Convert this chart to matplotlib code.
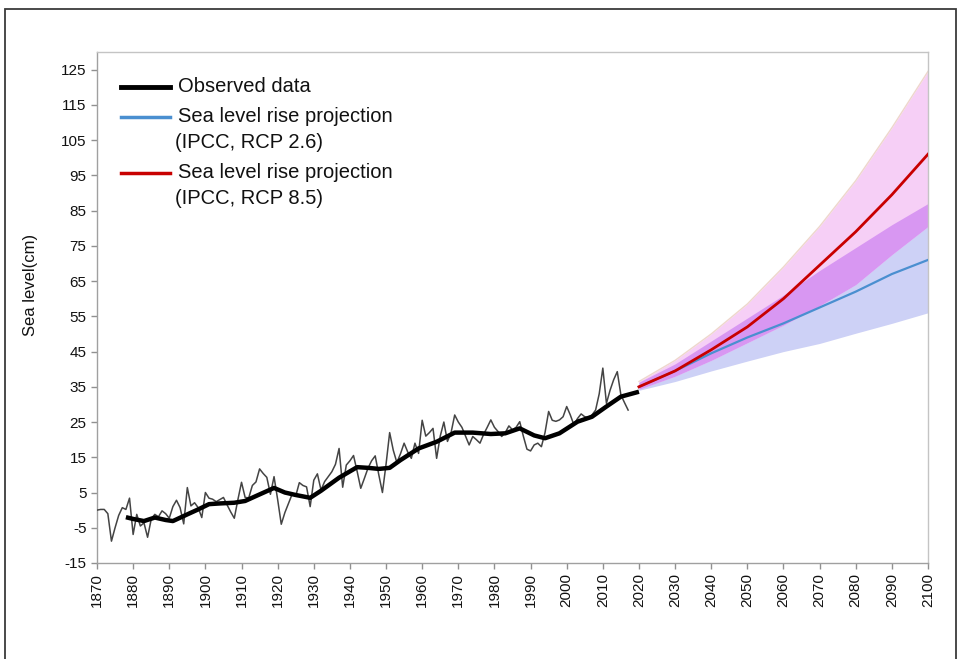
import numpy as np
import matplotlib
matplotlib.use("Agg")
import matplotlib.pyplot as plt
from matplotlib.lines import Line2D
from matplotlib.patches import Rectangle

plt.rcParams['font.family'] = ['Liberation Sans', 'DejaVu Sans']
plt.rcParams['axes.unicode_minus'] = False

# ---------------- data ----------------
obs_years = list(range(1870, 2018))
obs_values = [
    0, 0.2, 0.2, -1, -8.8, -5, -1.5, 0.7, 0.2, 3.4,          # 1870-1879
    -6.9, -1.2, -4.5, -3.6, -7.7, -2.6, -1.2, -1.9, -0.2, -1.0,  # 1880-1889
    -2.3, 1.0, 2.8, 0.7, -3.9, 6.4, 1.2, 2.1, 0.7, -2.1,      # 1890-1899
    5.0, 3.4, 3.1, 2.4, 3.0, 3.6, 1.5, -0.5, -2.3, 3.0,       # 1900-1909
    7.9, 3.6, 3.5, 7.0, 8.0, 11.7, 10.4, 9.3, 4.5, 9.5,       # 1910-1919
    3.0, -4.0, -0.7, 1.9, 4.5, 4.0, 7.8, 7.0, 6.6, 1.0,       # 1920-1929
    8.5, 10.3, 5.7, 8.1, 9.5, 10.9, 13.0, 17.5, 6.5, 12.8,    # 1930-1939
    14.0, 15.5, 11.0, 6.2, 9.0, 11.9, 14.0, 15.4, 10.0, 5.0,  # 1940-1949
    13.0, 22.0, 17.0, 13.5, 16.0, 19.0, 16.5, 14.7, 19.0, 16.1,  # 1950-1959
    25.5, 21.0, 22.0, 23.2, 14.7, 21.0, 25.0, 19.5, 22.0, 27.0,  # 1960-1969
    25.0, 23.5, 21.0, 18.5, 20.9, 20.0, 19.0, 21.5, 23.5, 25.6,  # 1970-1979
    23.5, 22.3, 20.9, 22.0, 23.9, 22.8, 23.5, 25.1, 21.0, 17.3,  # 1980-1989
    16.8, 18.5, 19.0, 18.0, 22.0, 28.0, 25.5, 25.2, 25.6, 26.5,  # 1990-1999
    29.4, 27.0, 24.2, 26.0, 27.3, 26.5, 26.3, 27.0, 28.4, 33.0,  # 2000-2009
    40.3, 30.3, 34.0, 37.0, 39.3, 32.7, 30.5, 28.4,              # 2010-2017
]

smooth_years = [1878, 1880, 1883, 1886, 1889, 1891, 1895, 1898, 1901, 1904,
                1908, 1911, 1914, 1919, 1922, 1925, 1929, 1932, 1937, 1942,
                1945, 1948, 1951, 1954, 1959, 1964, 1969, 1974, 1979, 1983,
                1987, 1991, 1994, 1998, 2003, 2007, 2011, 2015, 2020]
smooth_values = [-2.0, -2.5, -3.1, -2.1, -2.8, -3.1, -1.2, 0.2, 1.7, 1.9,
                 2.1, 2.6, 4.0, 6.3, 5.0, 4.3, 3.5, 5.5, 9.2, 12.2,
                 12.0, 11.7, 12.0, 14.2, 17.5, 19.4, 22.0, 22.0, 21.6, 21.8,
                 23.2, 21.2, 20.4, 21.8, 25.1, 26.5, 29.4, 32.2, 33.6]

proj_years = [2020, 2030, 2040, 2050, 2060, 2070, 2080, 2090, 2100]
rcp85_mid = [35, 39.5, 45.5, 52, 60, 69.5, 79, 89.5, 101]
rcp85_high = [36.5, 42.5, 50, 58.5, 69, 80.5, 93.5, 108.5, 124.5]
rcp85_low = [34.3, 38, 42.5, 47.5, 52.5, 58, 64, 72.5, 80.5]
rcp26_mid = [35, 39.5, 44.5, 49, 53, 57.5, 62, 67, 71]
rcp26_high = [36.3, 41.5, 48, 54.5, 61, 68, 74.5, 81, 87]
rcp26_low = [34, 36.5, 39.5, 42.3, 45, 47.3, 50.2, 53, 56]

y_ticks = list(range(-15, 126, 10))
x_ticks = list(range(1870, 2101, 10))

legend_labels = [["Observed data"],
                 ["Sea level rise projection", "(IPCC, RCP 2.6)"],
                 ["Sea level rise projection", "(IPCC, RCP 8.5)"]]
y_label = "Sea level(cm)"

# ---------------- figure ----------------
W, H = 959, 659
fig = plt.figure(figsize=(W / 100, H / 100), dpi=100)
fig.patch.set_facecolor('white')

# outer frame
fig.patches.append(Rectangle((5 / W, -0.05), (956 - 5) / W, 1.05 - 9 / H,
                             transform=fig.transFigure, fill=False,
                             edgecolor='#3a3a3a', linewidth=1.3))

ax = fig.add_axes([97 / W, 1 - 563 / H, (928 - 97) / W, (563 - 52) / H])

pink = '#f6cff6'
purple = '#d897f2'
lav = '#cdd1f6'

py = np.array(proj_years)
h8 = np.array(rcp85_high)
l8 = np.array(rcp85_low)
h2 = np.array(rcp26_high)
l2 = np.array(rcp26_low)

ax.fill_between(py, l2, h2, color=lav, linewidth=0, zorder=1)
ax.fill_between(py, l8, h8, color=pink, linewidth=0, zorder=1)
ax.fill_between(py, l8, np.minimum(h2, h8), where=h2 >= l8, color=purple,
                linewidth=0, zorder=2)
ax.plot(py, h8, color='#eed6cc', linewidth=1.0, zorder=2)

ax.plot(obs_years, obs_values, color='#444444', linewidth=1.1, zorder=3)
ax.plot(smooth_years, smooth_values, color='black', linewidth=3.2,
        solid_capstyle='butt', zorder=4)
ax.plot(proj_years, rcp26_mid, color='#4a8fd0', linewidth=1.6, zorder=5)
ax.plot(proj_years, rcp85_mid, color='#c80000', linewidth=2.0, zorder=6)

ax.set_xlim(1870, 2100)
ax.set_ylim(-15, 130)
ax.set_yticks(y_ticks)
ax.set_xticks(x_ticks)
ax.set_xticklabels([str(x) for x in x_ticks], rotation=90)
ax.tick_params(axis='both', colors='#909090', labelcolor='#111111',
               labelsize=11, length=4, width=1)
ax.tick_params(axis='x', pad=3)
for s in ax.spines.values():
    s.set_color('#c4c4c4')
    s.set_linewidth(1.0)
ax.spines['left'].set_color('#a0a0a0')
ax.spines['bottom'].set_color('#a0a0a0')

fig.text(31 / W, 1 - 285 / H, y_label, rotation=90, ha='center', va='center',
         fontsize=12, color='#111111')

# legend (manual)
leg_colors = ['black', '#4a8fd0', '#c80000']
leg_widths = [3.5, 2.5, 2.5]
leg_line_y = [87, 117, 173]
for labs, c, lw, yy in zip(legend_labels, leg_colors, leg_widths, leg_line_y):
    fig.add_artist(Line2D([121 / W, 170 / W], [1 - yy / H, 1 - yy / H],
                          transform=fig.transFigure, color=c, linewidth=lw))
    for i, lab in enumerate(labs):
        fig.text((178 if i == 0 else 175) / W, 1 - (yy + 25 * i) / H, lab,
                 ha='left', va='center', fontsize=14.5, color='#111111')

fig.savefig('out.png', dpi=100)
